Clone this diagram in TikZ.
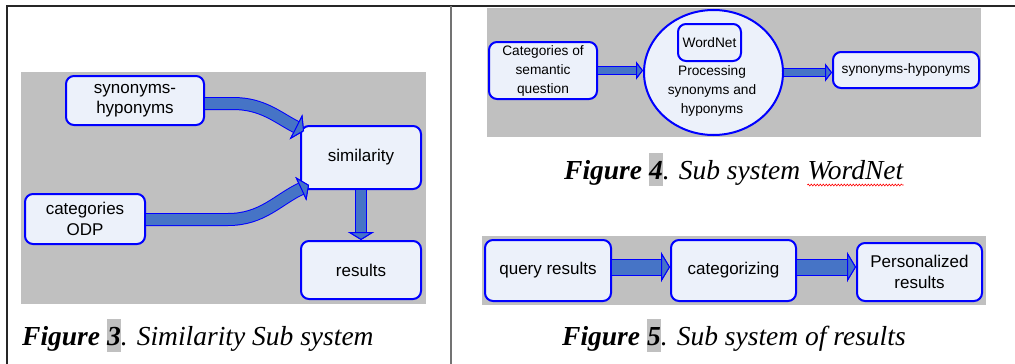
\documentclass[tikz,border=0pt]{standalone}
\usepackage{fontspec}
\setmainfont{Liberation Serif}
\newfontfamily\arialfont{Liberation Sans}
\usetikzlibrary{arrows.meta,shapes.geometric,decorations.pathmorphing,positioning}
\definecolor{PanelGray}{RGB}{192,192,192}
\definecolor{BoxFill}{RGB}{236,241,250}
\definecolor{BoxEdge}{RGB}{0,0,255}
\definecolor{ArrowFill}{RGB}{70,116,198}
\definecolor{RuleGray}{RGB}{115,115,115}
\newcommand*{\hlnum}[1]{{\setlength{\fboxsep}{0pt}\colorbox{PanelGray}{\rule[-7pt]{0pt}{33pt}#1}}}
\tikzset{
  panel/.style={fill=PanelGray},
  box/.style={draw=BoxEdge, fill=BoxFill, line width=2pt, rounded corners=8pt,
    align=center, inner sep=0pt},
  bigtext/.style={font=\arialfont\fontsize{17}{20.5}\selectfont},
  smalltext/.style={font=\arialfont\fontsize{13.7}{19}\selectfont},
  caption/.style={font=\fontsize{27.5}{33}\selectfont\itshape, anchor=base west, inner sep=0pt},
  % shaft width / head width / head length
  fat/.style args={#1/#2/#3}{draw=ArrowFill, line width=#1-2pt,
    preaction={draw=BoxEdge, line width=#1},
    -{Triangle[length=#3, width=#2, line width=1pt, color=BoxEdge, fill=ArrowFill]}},
  squiggle/.style={draw=red, line width=0.6pt, decorate,
    decoration={snake, amplitude=0.9pt, segment length=3pt}},
}

\begin{document}
\begin{tikzpicture}[x=1pt, y=-1pt]
  \useasboundingbox (0,0) rectangle (1015,364);
  % table rules
  \draw[line width=1.5pt, black!85] (7,364) -- (7,6) -- (1015,6);
  \draw[line width=2pt, RuleGray] (450.5,6) -- (450.5,364);

  % similarity sub system
  \fill[panel] (21,72) rectangle (426,304);
  \node[box, bigtext, minimum width=138pt, minimum height=49pt] (syn) at (135,100.5) {synonyms-\\hyponyms};
  \node[box, bigtext, minimum width=120pt, minimum height=50pt] (cat) at (85,219) {categories\\ODP};
  \node[box, bigtext, minimum width=120pt, minimum height=63pt] (sim) at (361,157.5) {similarity};
  \node[box, bigtext, minimum width=120pt, minimum height=58pt] (res) at (361,270) {results};
  \draw[fat=13pt/28pt/9pt] ([yshift=-3pt]syn.east) -- ++(28,0)
    to[out=0, in=153] ([xshift=4pt, yshift=-6pt]sim.north west);
  \draw[fat=13pt/26pt/9pt] ([yshift=-0.5pt]cat.east) -- ++(82,0)
    to[out=0, in=205] ([xshift=9pt, yshift=5pt]sim.south west);
  \draw[fat=12pt/26pt/8pt] (sim.south) -- (res.north);
  \node[caption] (cap3) at (22,345) {\textbf{Figure \hlnum{3}}. Similarity Sub system};

  % WordNet sub system
  \fill[panel] (487,8) rectangle (981,137);
  \node[box, smalltext, minimum width=108pt, minimum height=57pt] (catq) at (543,70.5) {Categories of\\semantic\\question};
  \node[ellipse, draw=BoxEdge, fill=BoxFill, line width=2pt, minimum width=139pt,
    minimum height=125pt, inner sep=0pt] (proc) at (713.5,72.5) {};
  \node[box, smalltext, minimum width=63pt, minimum height=37pt] (wn) at (709.5,42.5) {WordNet};
  \node[smalltext, align=center, inner sep=0pt] (proctext) at (712,91) {Processing\\synonyms and\\hyponyms};
  \node[box, smalltext, minimum width=146pt, minimum height=36pt] (syn2) at (906,70) {synonyms-hyponyms};
  \draw[fat=9pt/18pt/7pt] (catq.east) -- (catq.east -| proc.west);
  \draw[fat=9pt/18pt/7pt] (proc.east) -- (proc.east -| syn2.west);
  \node[caption] (cap4) at (564,179) {\textbf{Figure \hlnum{4}}. Sub system};
  \node[caption] (cap4wn) at ([xshift=6.9pt]cap4.base east) {WordNet};
  \draw[squiggle] ([yshift=-6pt]cap4wn.base west) -- ([yshift=-6pt]cap4wn.base east);

  % sub system of results
  \fill[panel] (482,236) rectangle (986,305);
  \node[box, bigtext, minimum width=126pt, minimum height=61pt] (query) at (548,270.5) {query results};
  \node[box, bigtext, minimum width=125pt, minimum height=61pt] (categ) at (733.5,270.5) {categorizing};
  \node[box, bigtext, minimum width=125pt, minimum height=58pt] (pers) at (919.5,272) {Personalized\\results};
  \draw[fat=17pt/30pt/9pt] ([yshift=3.5pt]query.east) -- ([yshift=3.5pt]query.east -| categ.west);
  \draw[fat=17pt/30pt/9pt] ([yshift=3.5pt]categ.east) -- ([yshift=3.5pt]categ.east -| pers.west);
  \node[caption] (cap5) at (562,345) {\textbf{Figure \hlnum{5}}. Sub system of results};
\end{tikzpicture}
\end{document}
